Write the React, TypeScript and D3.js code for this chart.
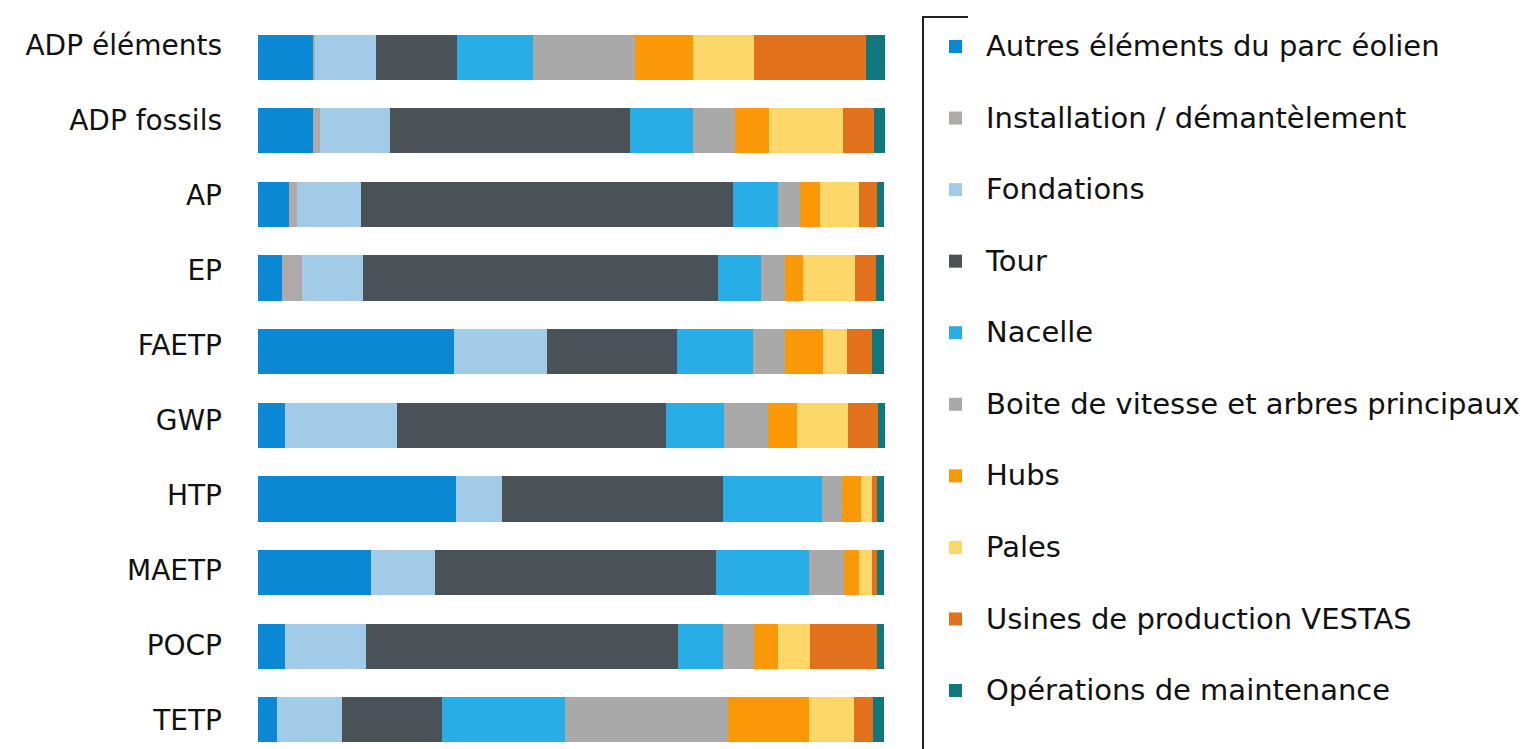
import React from "react";
import * as d3 from "d3";

const categories = ["ADP éléments", "ADP fossils", "AP", "EP", "FAETP", "GWP", "HTP", "MAETP", "POCP", "TETP"];

const seriesNames = [
  "Autres éléments du parc éolien",
  "Installation / démantèlement",
  "Fondations",
  "Tour",
  "Nacelle",
  "Boite de vitesse et arbres principaux",
  "Hubs",
  "Pales",
  "Usines de production VESTAS",
  "Opérations de maintenance",
];

// shares in % per category (same order as categories)
const autres = [8.8, 8.8, 4.9, 3.8, 31.3, 4.3, 31.6, 18.0, 4.3, 3.0];
const installation = [0.3, 1.1, 1.3, 3.2, 0, 0, 0, 0, 0, 0];
const fondations = [9.7, 11.2, 10.2, 9.7, 14.8, 17.9, 7.3, 10.2, 12.9, 10.4];
const tour = [12.9, 38.3, 59.3, 56.6, 20.7, 42.9, 35.2, 44.8, 49.8, 15.9];
const nacelle = [12.1, 10.0, 7.2, 7.0, 12.1, 9.3, 15.9, 14.8, 7.2, 19.6];
const boite = [16.3, 6.7, 3.5, 3.7, 5.1, 7.0, 3.2, 5.6, 4.9, 26.0];
const hubs = [9.3, 5.4, 3.3, 2.9, 6.1, 4.6, 3.0, 2.4, 3.8, 12.9];
const pales = [9.7, 11.8, 6.1, 8.3, 3.8, 8.1, 1.8, 2.2, 5.1, 7.3];
const usines = [17.9, 4.9, 3.0, 3.3, 4.1, 4.8, 0.8, 0.8, 10.8, 3.0];
const operations = [3.0, 1.8, 1.1, 1.4, 1.9, 1.1, 1.1, 1.1, 1.1, 1.8];

const seriesValues = [autres, installation, fondations, tour, nacelle, boite, hubs, pales, usines, operations];

const colors = [
  "#0a88d4",
  "#b0a9a9",
  "#a2cbe8",
  "#4a5257",
  "#29ade6",
  "#a9a9a9",
  "#fb9807",
  "#fdd76a",
  "#e2711e",
  "#0f787c",
];

const W = 1531;
const H = 749;

export default function App() {
  const keys = seriesNames.map((_, i) => "s" + i);
  const rows = categories.map((c, ci) => {
    const r: any = { cat: c };
    seriesValues.forEach((arr, si) => (r["s" + si] = arr[ci]));
    return r;
  });
  const stacked = d3.stack().keys(keys)(rows);

  const x = d3.scaleLinear().domain([0, 100]).range([258, 885]);
  const y = d3.scaleBand().domain(categories).range([22, 755]).paddingInner(0.386).paddingOuter(0.17);
  const yLabel = d3.scalePoint().domain(categories).range([45, 720]);
  const yLegend = d3.scalePoint().domain(seriesNames).range([46, 690]);

  const font = "'DejaVu Sans', Verdana, sans-serif";

  return (
    <div style={{ position: "absolute", left: 0, top: 0 }}>
      <svg width={W} height={H} style={{ display: "block", background: "#fff" }}>
        <g>
          {stacked.map((s, si) => (
            <g key={si} fill={colors[si]}>
              {s.map((d: any, ci) => (
                <rect
                  key={ci}
                  x={x(d[0])}
                  y={y(categories[ci])}
                  width={Math.max(0, x(d[1]) - x(d[0]))}
                  height={y.bandwidth()}
                  shapeRendering="crispEdges"
                />
              ))}
            </g>
          ))}
        </g>
        <g fontFamily={font} fontSize={28} fill="#111">
          {categories.map((c) => (
            <text key={c} x={222} y={yLabel(c)} dy="0.35em" textAnchor="end">
              {c}
            </text>
          ))}
        </g>
        <g>
          <path d="M968,17 H923 V749" fill="none" stroke="#222" strokeWidth={2} />
          {seriesNames.map((n, i) => (
            <g key={n}>
              <rect x={949} y={(yLegend(n) as number) - 6} width={13} height={13} fill={colors[i]} />
              <text x={986} y={yLegend(n)} dy="0.35em" fontFamily={font} fontSize={29} fill="#111">
                {n}
              </text>
            </g>
          ))}
        </g>
      </svg>
    </div>
  );
}
